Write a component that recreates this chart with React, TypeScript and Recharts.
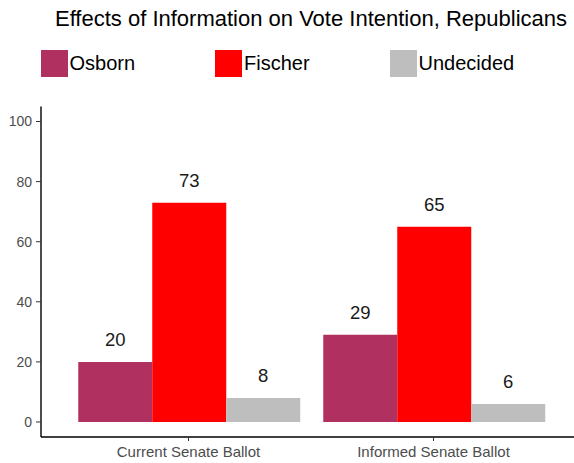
import { BarChart, Bar, XAxis, YAxis, Legend, LabelList } from 'recharts'

const categories = ['Current Senate Ballot', 'Informed Senate Ballot']
const osborn = [20, 29]
const fischer = [73, 65]
const undecided = [8, 6]
const yTicks = [0, 20, 40, 60, 80, 100]

const SERIES = [
  { key: 'Osborn', values: osborn, color: '#B03060' },
  { key: 'Fischer', values: fischer, color: '#FF0000' },
  { key: 'Undecided', values: undecided, color: '#BEBEBE' },
]

const FONT = '"Liberation Sans", Arial, Helvetica, sans-serif'

const chartData = categories.map((category, i) => {
  const row: Record<string, string | number> = { category }
  SERIES.forEach((s) => {
    row[s.key] = s.values[i]
  })
  return row
})

// keep legend in series order (Recharts sorts payload by name)
function renderLegend(props: any) {
  const payload: any[] = props.payload || []
  const items = SERIES.map((s) => {
    const found = payload.find((p) => p.value === s.key)
    return { value: s.key, color: found ? found.color : s.color }
  })
  return (
    <div style={{ display: 'flex', fontFamily: FONT }}>
      {items.map((entry) => (
        <div
          key={entry.value}
          style={{ width: 174.5, display: 'flex', alignItems: 'center', height: 27 }}
        >
          <span style={{ width: 27, height: 27, background: entry.color, display: 'inline-block' }} />
          <span style={{ marginLeft: 2, fontSize: 20, color: '#000', lineHeight: '27px' }}>
            {entry.value}
          </span>
        </div>
      ))}
    </div>
  )
}

export default function App() {
  return (
    <div style={{ position: 'absolute', left: 0, top: 0, fontFamily: FONT, background: '#fff' }}>
      <BarChart
        width={574}
        height={463}
        data={chartData}
        margin={{ top: 106.5, right: 0, left: 0, bottom: 0 }}
        barCategoryGap="5%"
        barGap={0}
        style={{ fontFamily: FONT }}
      >
        <text x={311} y={25.5} textAnchor="middle" fontSize={22} fill="#000">
          Effects of Information on Vote Intention, Republicans
        </text>
        <XAxis
          dataKey="category"
          height={26}
          padding={{ left: 25, right: 18 }}
          tickSize={4}
          tickMargin={5}
          axisLine={{ stroke: '#000', strokeWidth: 1.4 }}
          tickLine={{ stroke: '#333' }}
          tick={{ fill: '#4d4d4d', fontSize: 15 }}
        />
        <YAxis
          width={41}
          domain={[-5, 105]}
          ticks={yTicks}
          interval={0}
          tickSize={5}
          tickMargin={4}
          axisLine={{ stroke: '#000', strokeWidth: 1.4 }}
          tickLine={{ stroke: '#333' }}
          tick={{ fill: '#4d4d4d', fontSize: 14 }}
        />
        <Legend
          layout="horizontal"
          verticalAlign="middle"
          align="center"
          wrapperStyle={{ top: 50, left: 40.5, width: 530, height: 27 }}
          content={renderLegend}
        />
        {SERIES.map((s) => (
          <Bar key={s.key} dataKey={s.key} name={s.key} fill={s.color} isAnimationActive={false}>
            <LabelList dataKey={s.key} position="top" offset={15.5} fill="#1a1a1a" fontSize={18.5} />
          </Bar>
        ))}
      </BarChart>
    </div>
  )
}
